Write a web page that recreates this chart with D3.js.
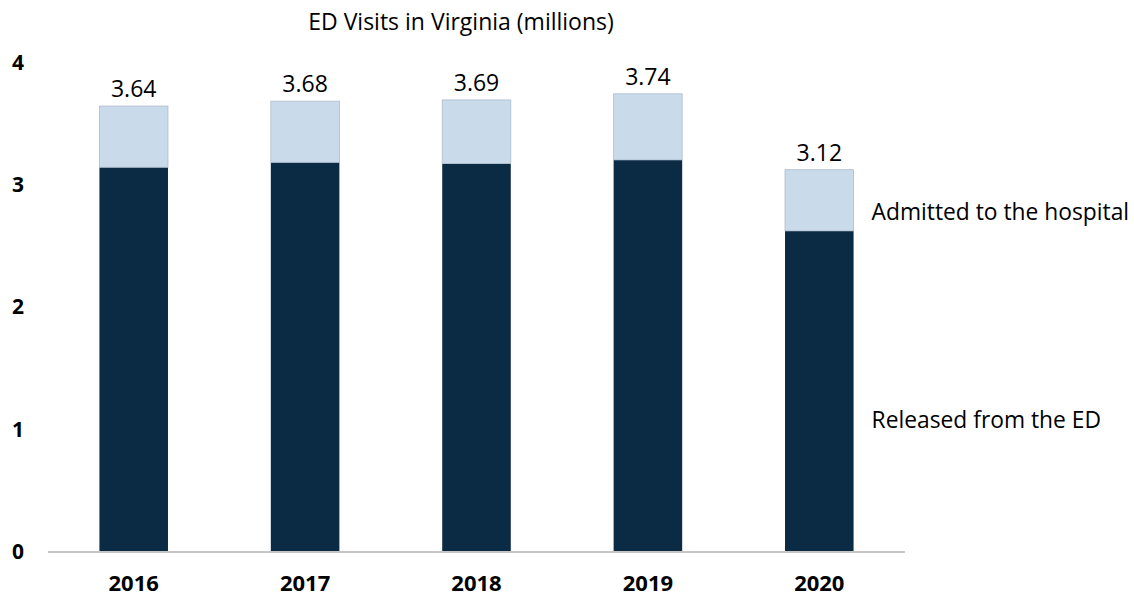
<!DOCTYPE html>
<html>
<head>
<meta charset="utf-8">
<script src="https://cdn.jsdelivr.net/npm/d3@7"></script>
<style>
  body { margin: 0; background: #fff; }
  text { font-family: "Open Sans", "Noto Sans", sans-serif; fill: #000; }
</style>
</head>
<body>
<div id="chart"></div>
<script>
// data (millions)
var years = ["2016", "2017", "2018", "2019", "2020"];
var released = [3.14, 3.18, 3.17, 3.20, 2.62];
var admitted = [0.50, 0.50, 0.52, 0.54, 0.50];
var totalLabels = ["3.64", "3.68", "3.69", "3.74", "3.12"];
var yTicks = [0, 1, 2, 3, 4];
var seriesNames = ["Released from the ED", "Admitted to the hospital"];

function main()
{
    var svgWidth = 1134;
    var svgHeight = 597;

    var svg = d3.select("#chart").append("svg")
        .attr("width", svgWidth)
        .attr("height", svgHeight);

    // plot area
    var left = 48, right = 905, top = 62, bottom = 551.5;

    var xScale = d3.scaleBand().domain(years).range([left, right])
        .paddingInner(0.6).paddingOuter(0.3);
    var yScale = d3.scaleLinear().domain([0, 4]).range([bottom, top]);

    var rows = years.map(function(y, i) {
        return { year: y, released: released[i], admitted: admitted[i], label: totalLabels[i] };
    });
    var stacked = d3.stack().keys(["released", "admitted"])(rows);
    var colors = { released: "#0a2b43", admitted: "#c9daeb" };

    // title
    svg.append("text")
        .attr("x", 461)
        .attr("y", 22)
        .attr("dy", "0.36em")
        .attr("text-anchor", "middle")
        .attr("font-size", "23px")
        .text("ED Visits in Virginia (millions)");

    // bars
    stacked.forEach(function(layer) {
        svg.append("g").selectAll("rect")
            .data(layer)
            .enter()
            .append("rect")
            .attr("x", function(d) { return xScale(d.data.year); })
            .attr("y", function(d) { return yScale(d[1]); })
            .attr("width", xScale.bandwidth())
            .attr("height", function(d) { return yScale(d[0]) - yScale(d[1]); })
            .attr("fill", colors[layer.key])
            .attr("stroke", layer.key == "admitted" ? "#aebccb" : "none")
            .attr("stroke-width", 0.8);
    });

    // baseline
    svg.append("line")
        .attr("x1", left).attr("x2", right)
        .attr("y1", bottom + 0.5).attr("y2", bottom + 0.5)
        .attr("stroke", "#c6c6c6")
        .attr("stroke-width", 2);

    // y axis labels
    svg.append("g").selectAll("text")
        .data(yTicks)
        .enter()
        .append("text")
        .attr("x", 18)
        .attr("y", function(d) { return yScale(d); })
        .attr("dy", "0.36em")
        .attr("text-anchor", "middle")
        .attr("font-size", "21px")
        .attr("font-weight", "bold")
        .text(function(d) { return d; });

    // x axis labels
    svg.append("g").selectAll("text")
        .data(years)
        .enter()
        .append("text")
        .attr("x", function(d) { return xScale(d) + xScale.bandwidth() / 2; })
        .attr("y", 583)
        .attr("dy", "0.36em")
        .attr("text-anchor", "middle")
        .attr("font-size", "22px")
        .attr("font-weight", "bold")
        .text(function(d) { return d; });

    // total labels
    svg.append("g").selectAll("text")
        .data(rows)
        .enter()
        .append("text")
        .attr("x", function(d) { return xScale(d.year) + xScale.bandwidth() / 2; })
        .attr("y", function(d) { return yScale(d.released + d.admitted) - 9; })
        .attr("text-anchor", "middle")
        .attr("font-size", "23px")
        .text(function(d) { return d.label; });

    // series labels next to the last bar
    var last = rows[rows.length - 1];
    var lx = xScale(last.year) + xScale.bandwidth() + 18;
    svg.append("text")
        .attr("x", lx)
        .attr("y", 212)
        .attr("dy", "0.36em")
        .attr("font-size", "22.8px")
        .text(seriesNames[1]);
    svg.append("text")
        .attr("x", lx)
        .attr("y", 420)
        .attr("dy", "0.36em")
        .attr("font-size", "22.8px")
        .text(seriesNames[0]);
}
main();
</script>
</body>
</html>
